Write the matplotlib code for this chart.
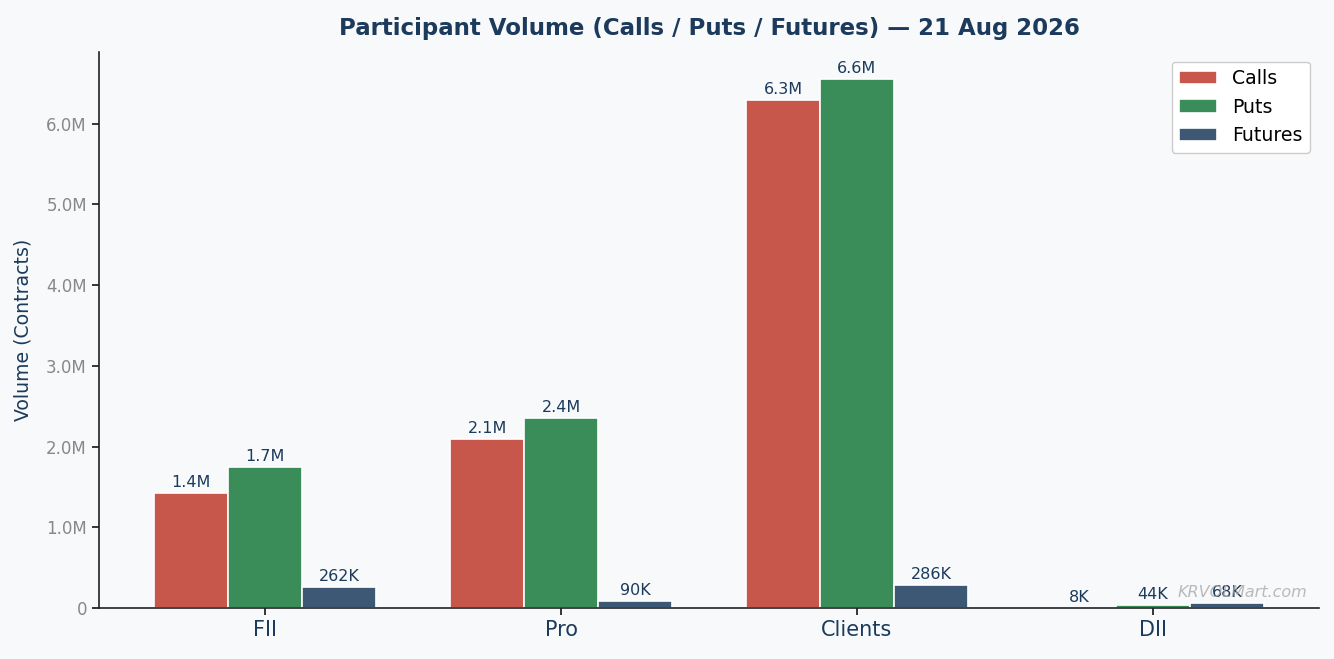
import numpy as np
import matplotlib.pyplot as plt
from matplotlib.ticker import FuncFormatter

# Participant volumes (contracts)
participants = ['FII', 'Pro', 'Clients', 'DII']
calls = [1426000, 2095000, 6297000, 8000]
puts = [1748000, 2355000, 6557000, 44000]
futures = [262000, 90000, 286000, 68000]

navy = '#1b3a5c'
bg = '#f7f9fb'


def fmt_vol(v):
    if v >= 1e6:
        return f"{v / 1e6:.1f}M"
    if v >= 1e3:
        return f"{v / 1e3:.0f}K"
    return f"{v:.0f}"


def axis_fmt(v, pos):
    if v == 0:
        return '0'
    return f"{v / 1e6:.1f}M"


fig, ax = plt.subplots(figsize=(13.34, 6.59), dpi=100)
fig.patch.set_facecolor(bg)
ax.set_facecolor(bg)

x = np.arange(len(participants))
w = 0.25
series = [(calls, 'Calls', '#c8574b'), (puts, 'Puts', '#3a8c59'), (futures, 'Futures', '#3d5875')]

for i, (vals, name, col) in enumerate(series):
    bars = ax.bar(x + (i - 1) * w, vals, w, label=name, color=col, edgecolor='white', linewidth=1.2)
    for b, v in zip(bars, vals):
        ax.annotate(fmt_vol(v), (b.get_x() + b.get_width() / 2, b.get_height()),
                    xytext=(0, 2), textcoords='offset points', ha='center', va='bottom',
                    fontsize=11.5, color=navy)

ax.set_ylim(0, max(max(calls), max(puts), max(futures)) * 1.05)
ax.yaxis.set_major_formatter(FuncFormatter(axis_fmt))
ax.set_xticks(x)
ax.set_xticklabels(participants, fontsize=15, color=navy)
ax.tick_params(axis='y', labelsize=12, labelcolor='#888888')
ax.tick_params(length=5, width=1.1)
ax.set_ylabel('Volume (Contracts)', fontsize=13.6, color=navy, labelpad=10)
ax.set_title('Participant Volume (Calls / Puts / Futures) — 21 Aug 2026',
             fontsize=16.5, fontweight='bold', color=navy, pad=12.5)

for s in ['top', 'right']:
    ax.spines[s].set_visible(False)
ax.spines['left'].set_color('#222222')
ax.spines['bottom'].set_color('#222222')
ax.spines['left'].set_linewidth(1.2)
ax.spines['bottom'].set_linewidth(1.2)

ax.legend(loc='upper right', fontsize=13.6, framealpha=1, facecolor='white', edgecolor='#cccccc')

ax.text(0.99, 0.015, 'KRVOLMart.com', transform=ax.transAxes, ha='right', va='bottom',
        fontsize=11.5, style='italic', color='#aaaaaa', alpha=0.8)

plt.subplots_adjust(left=0.074, right=0.989, top=0.921, bottom=0.077)
plt.savefig('out.png', dpi=100, facecolor=bg)
